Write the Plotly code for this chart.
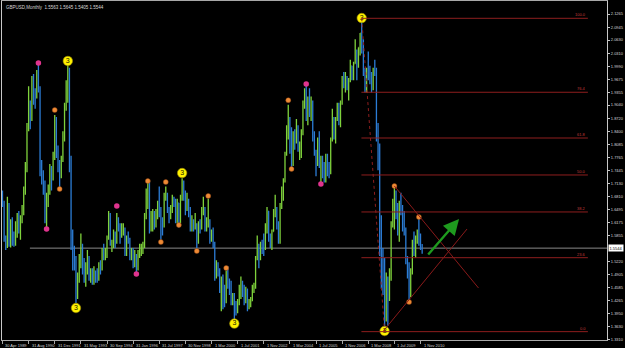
import plotly.graph_objects as go

# ---------------- data: GBPUSD monthly bars (bar index 0 = Apr 1989) ----------------
opens = [
    1.6900,1.6650,1.5750,1.5600,1.6600,1.5620,1.6100,1.5800,1.5650,                          # 1989
    1.6100,1.6300,1.6050,1.6250,1.6450,1.6950,1.7550,1.8550,1.9000,1.8750,1.9600,1.9300,      # 1990
    1.9250,1.9700,1.9450,1.7450,1.7250,1.7100,1.6250,1.6800,1.6950,1.7500,1.7250,1.7750,      # 1991
    1.8650,1.7850,1.7550,1.7350,1.7700,1.8300,1.9000,1.9200,1.9900,1.7650,1.5800,1.5200,      # 1992
    1.5150,1.4400,1.4850,1.5150,1.5600,1.4950,1.4900,1.4950,1.5250,1.4850,1.4900,             # 1993
    1.4800,1.4950,1.4850,1.4800,1.5150,1.5100,1.5450,1.5400,1.5450,1.5800,1.6300,1.5650,      # 1994
    1.5680,1.5850,1.5800,1.6200,1.6100,1.5850,1.5950,1.6000,1.5450,1.5800,1.5750,1.5300,      # 1995
    1.5500,1.5100,1.5350,1.5050,1.5450,1.5500,1.5550,1.5600,1.6300,1.6850,                    # 1996
    1.7100,1.6000,1.6300,1.6400,1.6200,1.6400,1.6650,1.6400,1.6150,1.6100,1.6750,1.6850,      # 1997
    1.6450,1.6350,1.6500,1.6750,1.6700,1.6300,1.6650,1.6450,1.6800,1.6950,1.6900,1.6500,      # 1998
    1.6650,1.6450,1.6000,1.6100,1.6050,1.6100,1.5800,1.6100,1.6050,1.6450,1.6500,1.6000,      # 1999
    1.6150,1.6200,1.5850,1.5950,1.5650,1.4950,1.5150,1.4950,1.4550,1.4750,1.4550,1.4250,      # 2000
    1.4950,1.4650,1.4500,1.4200,1.4300,1.4150,1.4050,1.4250,1.4550,1.4700,1.4550,1.4250,      # 2001
    1.4550,1.4150,1.4200,1.4250,1.4550,1.4650,1.5300,1.5600,1.5400,1.5650,1.5600,1.5550,      # 2002
    1.6100,1.6450,1.5800,1.5750,1.5950,1.6350,1.6500,1.6100,1.5800,1.6600,1.6950,1.7200,      # 2003
    1.7850,1.8250,1.8650,1.8400,1.7750,1.8300,1.8150,1.8200,1.8050,1.8100,1.8350,1.9100,      # 2004
    1.9200,1.8850,1.9200,1.8900,1.9100,1.8200,1.7900,1.7600,1.8000,1.7650,1.7700,1.7300,      # 2005
    1.7200,1.7800,1.7450,1.7400,1.8200,1.8700,1.8500,1.8700,1.9050,1.8700,1.9100,1.9650,      # 2006
    1.9600,1.9650,1.9600,1.9650,2.0000,1.9800,2.0050,2.0300,2.0100,2.0450,2.0800,2.0600,      # 2007
    1.9900,1.9850,1.9900,1.9850,1.9800,1.9750,1.9900,1.9850,1.8200,1.7900,1.6100,1.5350,      # 2008
    1.4600,1.3800,1.4350,1.4300,1.4800,1.6150,1.6450,1.6700,1.6300,1.6000,1.6450,1.6430,      # 2009
    1.6150,1.6000,1.5250,1.5000,1.4450,1.4950,1.5700,1.5500,1.5750,1.5950,1.5800,1.5563,      # 2010
]
highs = [
    1.6950,1.6700,1.5850,1.6800,1.6650,1.6250,1.6300,1.5950,1.6200,
    1.6400,1.6450,1.6350,1.6600,1.7050,1.7650,1.8600,1.9500,1.9150,1.9750,1.9800,1.9450,
    1.9900,2.0050,1.9500,1.7700,1.7450,1.7200,1.6900,1.7100,1.7600,1.7550,1.7900,1.8800,
    1.8750,1.8050,1.7700,1.7800,1.8400,1.9100,1.9650,2.0050,1.9950,1.7800,1.6000,1.5600,
    1.5350,1.4950,1.5400,1.5900,1.5650,1.5300,1.5200,1.5500,1.5350,1.5050,1.5050,
    1.5100,1.5000,1.5050,1.5200,1.5250,1.5550,1.5650,1.5550,1.5850,1.6450,1.6400,1.5750,
    1.6000,1.5950,1.6400,1.6300,1.6150,1.6150,1.6150,1.6050,1.5850,1.5950,1.5800,1.5550,
    1.5550,1.5500,1.5400,1.5500,1.5650,1.5650,1.5700,1.6400,1.7000,1.7150,
    1.7200,1.6450,1.6500,1.6450,1.6500,1.6700,1.7050,1.6550,1.6300,1.6900,1.7050,1.6900,
    1.6550,1.6600,1.6850,1.6800,1.6750,1.6750,1.6650,1.6850,1.7250,1.7200,1.6950,1.6900,
    1.6750,1.6550,1.6350,1.6250,1.6400,1.6150,1.6200,1.6250,1.6550,1.6800,1.6550,1.6300,
    1.6750,1.6250,1.6000,1.6050,1.5700,1.5250,1.5200,1.5050,1.4850,1.4900,1.4650,1.5000,
    1.5100,1.4800,1.4750,1.4450,1.4450,1.4250,1.4300,1.4650,1.4850,1.4750,1.4650,1.4600,
    1.4550,1.4300,1.4350,1.4650,1.4700,1.5350,1.5850,1.5650,1.5700,1.5750,1.5900,1.6150,
    1.6550,1.6450,1.5900,1.6000,1.6500,1.6850,1.6550,1.6200,1.6650,1.7050,1.7250,1.7900,
    1.8550,1.9050,1.8750,1.8500,1.8400,1.8450,1.8700,1.8550,1.8150,1.8450,1.9150,1.9450,
    1.9550,1.9250,1.9450,1.9250,1.9150,1.8400,1.7950,1.8250,1.8400,1.7800,1.7800,1.7650,
    1.7850,1.7850,1.7650,1.8250,1.8950,1.8750,1.8750,1.9100,1.9100,1.9150,1.9750,1.9850,
    1.9850,1.9750,1.9700,2.0150,2.0000,2.0100,2.0650,2.0400,2.0450,2.0800,2.1160,2.0650,
    1.9950,1.9950,2.0350,2.0000,1.9850,1.9950,2.0150,1.9950,1.8600,1.8100,1.6350,1.5550,
    1.5300,1.4950,1.4850,1.5050,1.6200,1.6750,1.7050,1.6950,1.6650,1.6700,1.6900,1.6600,
    1.6450,1.6050,1.5350,1.5200,1.5050,1.5750,1.5950,1.5850,1.6000,1.6300,1.5900,1.5645,
]
lows = [
    1.6550,1.5700,1.5500,1.5550,1.5580,1.5560,1.5600,1.5580,1.5600,
    1.5800,1.5900,1.5750,1.6150,1.6350,1.6850,1.7400,1.8400,1.8450,1.8650,1.9050,1.8950,
    1.9200,1.9350,1.7300,1.7100,1.6850,1.6150,1.6000,1.6550,1.6850,1.6950,1.7200,1.7700,
    1.7750,1.7400,1.7000,1.7250,1.7650,1.8150,1.8900,1.9100,1.7400,1.5500,1.5000,1.5000,
    1.4200,1.4300,1.4700,1.5050,1.4900,1.4700,1.4600,1.4900,1.4750,1.4700,1.4650,
    1.4650,1.4700,1.4700,1.4750,1.4900,1.5000,1.5250,1.5250,1.5300,1.5750,1.5600,1.5450,
    1.5550,1.5550,1.5650,1.5950,1.5650,1.5800,1.5850,1.5350,1.5350,1.5650,1.5250,1.5250,
    1.5050,1.5080,1.4950,1.5000,1.5300,1.5350,1.5400,1.5550,1.6250,1.6500,
    1.5900,1.5950,1.5950,1.6000,1.6050,1.6250,1.6300,1.5750,1.5850,1.6050,1.6700,1.6400,
    1.6150,1.6250,1.6400,1.6550,1.6150,1.6150,1.6050,1.6150,1.6700,1.6700,1.6350,1.6450,
    1.6300,1.5950,1.5950,1.5950,1.6000,1.5550,1.5650,1.5900,1.6000,1.6350,1.5950,1.5950,
    1.6050,1.5650,1.5700,1.5550,1.4750,1.4800,1.4850,1.4450,1.4000,1.4050,1.4100,1.4200,
    1.4550,1.4400,1.4150,1.4150,1.3750,1.3900,1.3950,1.4150,1.4300,1.4350,1.4150,1.4200,
    1.4000,1.4050,1.4100,1.4250,1.4450,1.4550,1.5250,1.5050,1.5250,1.5400,1.5350,1.5500,
    1.5900,1.5700,1.5550,1.5500,1.5950,1.6300,1.6000,1.5650,1.5650,1.6500,1.6700,1.7150,
    1.7800,1.8200,1.7850,1.7500,1.7550,1.7950,1.8100,1.7900,1.7700,1.7750,1.8300,1.8950,
    1.8650,1.8550,1.8750,1.8650,1.8150,1.7800,1.7300,1.7550,1.7500,1.7150,1.7250,1.7150,
    1.7150,1.7300,1.7250,1.7350,1.8150,1.8200,1.8100,1.8650,1.8550,1.8500,1.9050,1.9450,
    1.9350,1.9400,1.9150,1.9600,1.9650,1.9650,2.0050,1.9650,1.9950,2.0250,2.0300,1.9750,
    1.9350,1.9350,1.9650,1.9550,1.9350,1.9400,1.9750,1.8150,1.7450,1.5350,1.4550,1.4400,
    1.3500,1.3750,1.3650,1.4250,1.4750,1.6050,1.6000,1.6250,1.5850,1.5700,1.6350,1.5950,
    1.5850,1.5150,1.4800,1.4250,1.4350,1.4900,1.5350,1.5300,1.5650,1.5600,1.5500,1.5405,
]
closes = [
    1.6650,1.5750,1.5600,1.6600,1.5620,1.6100,1.5800,1.5650,1.6100,
    1.6300,1.6050,1.6250,1.6450,1.6950,1.7550,1.8550,1.9000,1.8750,1.9600,1.9300,1.9250,
    1.9700,1.9450,1.7450,1.7250,1.7100,1.6250,1.6800,1.6950,1.7500,1.7250,1.7750,1.8650,
    1.7850,1.7550,1.7350,1.7700,1.8300,1.9000,1.9200,1.9900,1.7650,1.5800,1.5200,1.5150,
    1.4400,1.4850,1.5150,1.5600,1.4950,1.4900,1.4950,1.5250,1.4850,1.4900,1.4800,
    1.4950,1.4850,1.4800,1.5150,1.5100,1.5450,1.5400,1.5450,1.5800,1.6300,1.5650,1.5680,
    1.5850,1.5800,1.6200,1.6100,1.5850,1.5950,1.6000,1.5450,1.5800,1.5750,1.5300,1.5500,
    1.5100,1.5350,1.5050,1.5450,1.5500,1.5550,1.5600,1.6300,1.6850,1.7100,
    1.6000,1.6300,1.6400,1.6200,1.6400,1.6650,1.6400,1.6150,1.6100,1.6750,1.6850,1.6450,
    1.6350,1.6500,1.6750,1.6700,1.6300,1.6650,1.6450,1.6800,1.6950,1.6900,1.6500,1.6650,
    1.6450,1.6000,1.6100,1.6050,1.6100,1.5800,1.6100,1.6050,1.6450,1.6500,1.6000,1.6150,
    1.6200,1.5850,1.5950,1.5650,1.4950,1.5150,1.4950,1.4550,1.4750,1.4550,1.4250,1.4950,
    1.4650,1.4500,1.4200,1.4300,1.4150,1.4050,1.4250,1.4550,1.4700,1.4550,1.4250,1.4550,
    1.4150,1.4200,1.4250,1.4550,1.4650,1.5300,1.5600,1.5400,1.5650,1.5600,1.5550,1.6100,
    1.6450,1.5800,1.5750,1.5950,1.6350,1.6500,1.6100,1.5800,1.6600,1.6950,1.7200,1.7850,
    1.8250,1.8650,1.8400,1.7750,1.8300,1.8150,1.8200,1.8050,1.8100,1.8350,1.9100,1.9200,
    1.8850,1.9200,1.8900,1.9100,1.8200,1.7900,1.7600,1.8000,1.7650,1.7700,1.7300,1.7200,
    1.7800,1.7450,1.7400,1.8200,1.8700,1.8500,1.8700,1.9050,1.8700,1.9100,1.9650,1.9600,
    1.9650,1.9600,1.9650,2.0000,1.9800,2.0050,2.0300,2.0100,2.0450,2.0800,2.0600,1.9900,
    1.9850,1.9900,1.9850,1.9800,1.9750,1.9900,1.9850,1.8200,1.7900,1.6100,1.5350,1.4600,
    1.3800,1.4350,1.4300,1.4800,1.6150,1.6450,1.6700,1.6300,1.6000,1.6450,1.6430,1.6150,
    1.6000,1.5250,1.5000,1.4450,1.4950,1.5700,1.5500,1.5750,1.5950,1.5800,1.5563,1.5544,
]
bar_index = list(range(len(closes)))

# date labels shown every 16 bars
date_tick_idx = [0, 16, 32, 48, 64, 80, 96, 112, 128, 144, 160, 176, 192, 208, 224, 240, 256]
date_tick_text = ["30 Apr 1989", "31 Aug 1990", "31 Dec 1991", "31 May 1993", "30 Sep 1994",
                  "31 Jan 1996", "31 Jul 1997", "30 Nov 1998", "1 Mar 2000", "1 Jul 2001",
                  "1 Nov 2002", "1 Mar 2004", "1 Jul 2005", "1 Nov 2006", "1 Mar 2008",
                  "1 Jul 2009", "1 Nov 2010"]

price_ticks = ["2.1265", "2.0945", "2.0630", "2.0310", "1.9990", "1.9675", "1.9355", "1.9040",
               "1.8720", "1.8400", "1.8085", "1.7765", "1.7445", "1.7130", "1.6810", "1.6495",
               "1.6175", "1.5855", "1.5220", "1.4905", "1.4585", "1.4265", "1.3950", "1.3630",
               "1.3310"]

title_text = "GBPUSD,Monthly  1.5563 1.5645 1.5405 1.5544"
last_price = 1.5544
hline_start_idx = 16.8

# wave markers
yellow_idx = [40, 45, 110, 142, 220, 234]
yellow_px = [2.0118, 1.4081, 1.7380, 1.3700, 2.1168, 1.3519]
pink_idx = [22, 27, 70, 82, 186, 195]
pink_px = [2.0069, 1.6012, 1.6574, 1.4912, 1.9555, 1.7112]
orange_idx = [32, 35, 89, 97, 100, 108, 119, 126, 137, 175, 177, 240, 249, 255]
orange_px = [1.8920, 1.6990, 1.7185, 1.5694, 1.7161, 1.6110, 1.5474, 1.6820, 1.5060,
             1.9160, 1.7480, 1.7063, 1.4228, 1.6305]

# Fibonacci retracement
fib_levels = [0.0, 23.6, 38.2, 50.0, 61.8, 76.4, 100.0]
fib_high, fib_low = 2.1161, 1.3503
fib_x = [219.8, 358.5]
fib_trend_x = [220, 234]

# triangle lines and arrow (bar index, price)
tri_upper = [(240.0, 1.7063), (291.5, 1.4570)]
tri_lower = [(233.3, 1.3519), (284.5, 1.6012)]
arrow_tail = (259.9, 1.5352)
arrow_head = (279.6, 1.6256)

# ---------------- figure ----------------
FONT = "Liberation Sans, Arial, sans-serif"
RED = "#8E1E1E"

fig = go.Figure()
fig.add_trace(go.Ohlc(
    x=bar_index, open=opens, high=highs, low=lows, close=closes,
    increasing=dict(line=dict(color="#7FD23C", width=1.3)),
    decreasing=dict(line=dict(color="#2C7DD6", width=1.3)),
    tickwidth=0.35, hoverinfo="skip", showlegend=False))

fig.add_trace(go.Scatter(x=pink_idx, y=pink_px, mode="markers",
                         marker=dict(size=5.5, color="#E0338E", line=dict(width=0)),
                         showlegend=False, hoverinfo="skip"))
fig.add_trace(go.Scatter(x=orange_idx, y=orange_px, mode="markers",
                         marker=dict(size=5, color="#EE8A35", line=dict(width=0.4, color="#8A4010")),
                         showlegend=False, hoverinfo="skip"))
fig.add_trace(go.Scatter(x=yellow_idx, y=yellow_px, mode="markers+text", text=["3"] * len(yellow_idx),
                         textposition="middle center",
                         textfont=dict(size=7, color="#202000", family=FONT),
                         marker=dict(size=9.5, color="#FFF200", line=dict(width=0.6, color="#9A8A00")),
                         showlegend=False, hoverinfo="skip"))

shapes = []
# current price line
shapes.append(dict(type="line", xref="x", yref="y", x0=hline_start_idx, x1=371, y0=last_price, y1=last_price,
                   line=dict(color="#8A8A8A", width=1), layer="below"))
# fib lines
annotations = []
for lv in fib_levels:
    p = fib_low + (fib_high - fib_low) * lv / 100.0
    shapes.append(dict(type="line", xref="x", yref="y", x0=fib_x[0], x1=fib_x[1], y0=p, y1=p,
                       line=dict(color=RED, width=1)))
    annotations.append(dict(x=fib_x[1], y=p, xref="x", yref="y", text=f"{lv:.1f}", showarrow=False,
                            xanchor="right", yanchor="bottom", yshift=-1,
                            font=dict(size=4, color="#C23A3A", family=FONT)))
# fib trend (dotted)
shapes.append(dict(type="line", xref="x", yref="y", x0=fib_trend_x[0], x1=fib_trend_x[1],
                   y0=fib_high, y1=fib_low, line=dict(color=RED, width=1, dash="dot")))
# triangle
for seg in (tri_upper, tri_lower):
    shapes.append(dict(type="line", xref="x", yref="y", x0=seg[0][0], y0=seg[0][1], x1=seg[1][0], y1=seg[1][1],
                       line=dict(color="#8A1A1A", width=1)))

# green arrow
annotations.append(dict(x=arrow_head[0], y=arrow_head[1], ax=arrow_tail[0], ay=arrow_tail[1],
                        xref="x", yref="y", axref="x", ayref="y", text="", showarrow=True,
                        arrowhead=2, arrowsize=1.3, arrowwidth=2.4, arrowcolor="#1E9A1E"))
# title
annotations.append(dict(x=0, y=1, xref="paper", yref="paper", text=title_text, showarrow=False,
                        xanchor="left", yanchor="top", xshift=2, yshift=-2,
                        font=dict(size=4.5, color="#D8D8D8", family=FONT)))
# date labels
for i, t in zip(date_tick_idx, date_tick_text):
    annotations.append(dict(x=i, y=0, xref="x", yref="paper", text=t, showarrow=False,
                            xanchor="left", yanchor="top", xshift=1, yshift=-1,
                            font=dict(size=4, color="#D0D0D0", family=FONT)))
# price box
annotations.append(dict(x=1, y=last_price, xref="paper", yref="y", text=last_price.__format__(".4f"),
                        showarrow=False, xanchor="left", yanchor="middle", xshift=1,
                        bgcolor="#FFFFFF", borderpad=0.5,
                        font=dict(size=4, color="#000000", family=FONT)))

fig.update_layout(
    width=625, height=348,
    margin=dict(l=2, r=18, t=1, b=8),
    paper_bgcolor="#000000", plot_bgcolor="#000000",
    shapes=shapes, annotations=annotations,
    showlegend=False,
    xaxis=dict(range=[-0.3, 370.2], showgrid=False, zeroline=False, showline=True, mirror=True,
               linecolor="#A8A8A8", linewidth=1, ticks="outside", ticklen=3, tickcolor="#A8A8A8",
               tickvals=date_tick_idx, showticklabels=False, rangeslider=dict(visible=False),
               fixedrange=True),
    yaxis=dict(range=[1.3299, 2.1584], side="right", showgrid=False, zeroline=False, showline=True,
               mirror=True, linecolor="#C8C8C8", linewidth=1, ticks="outside", ticklen=2,
               tickcolor="#C8C8C8", tickvals=[float(v) for v in price_ticks], ticktext=price_ticks,
               tickfont=dict(size=4, color="#D8D8D8", family=FONT), fixedrange=True),
)

fig.write_html("out.html", config={"displayModeBar": False})
